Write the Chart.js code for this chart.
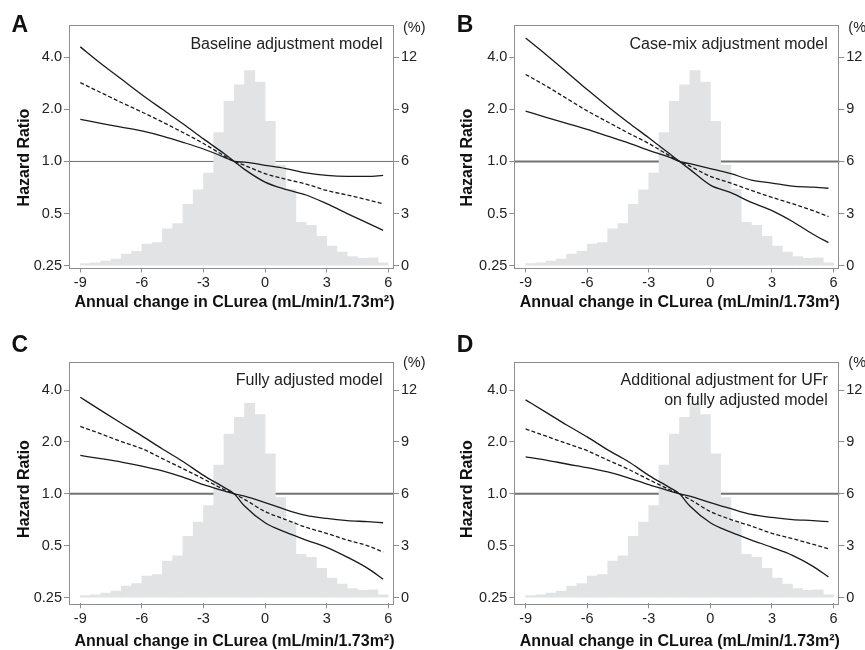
<!DOCTYPE html>
<html><head><meta charset="utf-8">
<script src="https://cdn.jsdelivr.net/npm/chart.js@4.4.1/dist/chart.umd.min.js"></script>
<style>
html,body{margin:0;padding:0;background:#fff;width:865px;height:650px;overflow:hidden;}
.p{position:absolute;width:432px;height:325px;}
canvas{display:block;}
</style></head><body>
<div class="p" style="left:0;top:0"><canvas id="cA" width="432" height="325"></canvas></div>
<div class="p" style="left:433px;top:0"><canvas id="cB" width="432" height="325"></canvas></div>
<div class="p" style="left:0;top:325px"><canvas id="cC" width="432" height="325"></canvas></div>
<div class="p" style="left:433px;top:325px"><canvas id="cD" width="432" height="325"></canvas></div>
<script>
// ---- data ----
const xTicks = [-9, -6, -3, 0, 3, 6];
const hrTicks = [0.25, 0.5, 1, 2, 4];
const hrTickLabels = ['0.25', '0.5', '1.0', '2.0', '4.0'];
const pctTicks = [0, 3, 6, 9, 12];
const refHR = 1;
const xTitle = 'Annual change in CLurea (mL/min/1.73m²)';
const yTitle = 'Hazard Ratio';
const pctTitle = '(%)';

const histBins = [-8.75,-8.25,-7.75,-7.25,-6.75,-6.25,-5.75,-5.25,-4.75,-4.25,-3.75,-3.25,-2.75,-2.25,-1.75,-1.25,-0.75,-0.25,0.25,0.75,1.25,1.75,2.25,2.75,3.25,3.75,4.25,4.75,5.25,5.75];
const histPct = [0.12,0.17,0.26,0.38,0.67,0.82,1.25,1.33,2.12,2.42,3.54,4.37,5.33,7.67,9.46,10.42,11.23,10.58,8.31,5.79,4.40,2.50,2.33,1.69,1.13,0.79,0.52,0.42,0.45,0.17];

const curveX = [-9,-8,-7,-6,-5,-4,-3,-2,-1.5,-1,0,1,2,3,4,5,5.75];

const steepA = [4.59,3.68,2.99,2.43,2.00,1.65,1.35,1.11,1,0.90,0.76,0.69,0.64,0.57,0.50,0.44,0.40];
const estA   = [2.85,2.50,2.19,1.93,1.69,1.47,1.27,1.08,1,0.95,0.85,0.79,0.74,0.68,0.64,0.60,0.57];
const flatA  = [1.75,1.66,1.58,1.50,1.40,1.29,1.18,1.06,1,0.99,0.95,0.91,0.86,0.83,0.82,0.82,0.83];

const steepB = [5.17,4.14,3.29,2.60,2.08,1.68,1.37,1.11,1,0.90,0.73,0.66,0.58,0.52,0.45,0.38,0.34];
const estB   = [3.18,2.73,2.31,1.96,1.69,1.46,1.27,1.08,1,0.94,0.82,0.75,0.68,0.62,0.57,0.52,0.48];
const flatB  = [1.95,1.80,1.66,1.53,1.40,1.28,1.16,1.06,1,0.97,0.91,0.85,0.78,0.75,0.72,0.71,0.70];

const steepC = [3.63,3.05,2.57,2.17,1.82,1.54,1.28,1.09,1,0.85,0.68,0.60,0.54,0.49,0.43,0.37,0.32];
const estC   = [2.46,2.23,2.01,1.83,1.60,1.40,1.22,1.06,1,0.93,0.79,0.71,0.64,0.59,0.54,0.50,0.46];
const flatC  = [1.67,1.60,1.53,1.45,1.36,1.25,1.13,1.04,1,0.97,0.89,0.81,0.75,0.72,0.70,0.69,0.68];

const steepD = [3.51,2.97,2.51,2.14,1.80,1.54,1.28,1.09,1,0.85,0.68,0.60,0.54,0.49,0.44,0.38,0.33];
const estD   = [2.38,2.16,1.96,1.78,1.57,1.39,1.21,1.06,1,0.93,0.79,0.71,0.65,0.59,0.55,0.51,0.48];
const flatD  = [1.64,1.57,1.49,1.42,1.34,1.24,1.13,1.04,1,0.97,0.89,0.82,0.76,0.73,0.71,0.70,0.69];

const panelLetters = ['A', 'B', 'C', 'D'];
const panelNotes = [
  ['Baseline adjustment model'],
  ['Case-mix adjustment model'],
  ['Fully adjusted model'],
  ['Additional adjustment for UFr', 'on fully adjusted model']
];

// ---- layout / style ----
const W = 432, H = 325;
const FONT = "'Liberation Sans', Arial, Helvetica, sans-serif";
const rowTop = {t: 25, b: 267.5, hrMin: 0.244, hrMax: 6.14, pMin: -0.104, pMax: 13.86, letterY: 31.5, ytY: 157.5, xtY: 303, pctY: 28, noteY: 45};
const rowBot = {t: 36.7, b: 278.3, hrMin: 0.232, hrMax: 5.84, pMin: -0.324, pMax: 13.64, letterY: 26.7, ytY: 164, xtY: 316.7, pctY: 38.3, noteY: 55.7};
const colL = {l: 69, r: 394, letterX: 11.5, ytX: 25};
const colR = {l: 81.3, r: 406.3, letterX: 23.7, ytX: 34.5};

const panels = [
  {id: 'cA', row: rowTop, col: colL, steep: steepA, est: estA, flat: flatA, refW: 1, refC: '#6b6b6b'},
  {id: 'cB', row: rowTop, col: colR, steep: steepB, est: estB, flat: flatB, refW: 2, refC: '#727272'},
  {id: 'cC', row: rowBot, col: colL, steep: steepC, est: estC, flat: flatC, refW: 2, refC: '#727272'},
  {id: 'cD', row: rowBot, col: colR, steep: steepD, est: estD, flat: flatD, refW: 2, refC: '#727272'}
];

function pts(xs, ys) { return xs.map((x, i) => ({x: x, y: ys[i]})); }

function makeDecor(p, idx) {
  return {
    id: 'decor' + idx,
    beforeDatasetsDraw(chart) {
      const ctx = chart.ctx, a = chart.chartArea;
      const y = chart.scales.y.getPixelForValue(refHR);
      ctx.save();
      ctx.strokeStyle = p.refC; ctx.lineWidth = p.refW;
      ctx.beginPath(); ctx.moveTo(a.left, y); ctx.lineTo(a.right, y); ctx.stroke();
      ctx.restore();
    },
    afterDatasetsDraw(chart) {
      const ctx = chart.ctx, a = chart.chartArea;
      ctx.save();
      ctx.strokeStyle = '#8e8e8e'; ctx.lineWidth = 1;
      ctx.strokeRect(Math.round(a.left) + 0.5, Math.round(a.top) + 0.5, Math.round(a.right - a.left) - 1, Math.round(a.bottom - a.top));
      ctx.fillStyle = '#111';
      ctx.font = 'bold 23px ' + FONT;
      ctx.textAlign = 'left'; ctx.textBaseline = 'alphabetic';
      ctx.fillText(panelLetters[idx], p.col.letterX, p.row.letterY);
      ctx.fillStyle = '#222';
      ctx.font = '16px ' + FONT;
      ctx.textAlign = 'right'; ctx.textBaseline = 'middle';
      panelNotes[idx].forEach((t, k) => ctx.fillText(t, a.right - 11.5, p.row.noteY + k * 20));
      ctx.font = '14.5px ' + FONT;
      ctx.textAlign = 'left';
      ctx.fillText(pctTitle, a.right + 9, p.row.pctY);
      ctx.fillStyle = '#111';
      ctx.font = 'bold 16px ' + FONT;
      ctx.textAlign = 'center'; ctx.textBaseline = 'middle';
      ctx.fillText(xTitle, (a.left + a.right) / 2 + 3, p.row.xtY);
      ctx.translate(p.col.ytX, p.row.ytY);
      ctx.rotate(-Math.PI / 2);
      ctx.fillText(yTitle, 0, 0);
      ctx.restore();
    }
  };
}

panels.forEach((p, idx) => {
  const lineStyle = {type: 'line', xAxisID: 'x', yAxisID: 'y', borderColor: '#1b1b1b', borderWidth: 1.3,
    pointRadius: 0, fill: false, cubicInterpolationMode: 'monotone', order: 1};
  new Chart(document.getElementById(p.id), {
    type: 'bar',
    data: {
      datasets: [
        {type: 'bar', data: pts(histBins, histPct), xAxisID: 'x', yAxisID: 'y1', backgroundColor: '#e2e3e5',
          borderWidth: 0, barPercentage: 1, categoryPercentage: 1, order: 2},
        Object.assign({data: pts(curveX, p.steep)}, lineStyle),
        Object.assign({data: pts(curveX, p.est), borderDash: [4, 2.2]}, lineStyle),
        Object.assign({data: pts(curveX, p.flat)}, lineStyle)
      ]
    },
    options: {
      responsive: false, animation: false, devicePixelRatio: 1,
      layout: {padding: {top: p.row.t, left: 0, right: 0, bottom: 0}},
      plugins: {legend: {display: false}, tooltip: {enabled: false}, title: {display: false}},
      scales: {
        x: {
          type: 'linear', position: 'bottom', min: -9.55, max: 6.28, offset: false,
          afterBuildTicks: s => { s.ticks = xTicks.map(v => ({value: v})); },
          afterFit: s => { s.height = H - p.row.b; },
          grid: {display: true, drawOnChartArea: false, drawTicks: true, tickLength: 5, tickColor: '#8e8e8e', offset: false},
          border: {display: false},
          ticks: {color: '#222', font: {family: FONT, size: 14.5}, padding: 2, maxRotation: 0, autoSkip: false,
            callback: v => String(v)}
        },
        y: {
          type: 'logarithmic', position: 'left', min: p.row.hrMin, max: p.row.hrMax,
          afterBuildTicks: s => { s.ticks = hrTicks.map(v => ({value: v})); },
          afterFit: s => { s.width = p.col.l; },
          grid: {display: true, drawOnChartArea: false, drawTicks: true, tickLength: 5, tickColor: '#8e8e8e'},
          border: {display: false},
          ticks: {color: '#222', font: {family: FONT, size: 14.5}, padding: 2, autoSkip: false,
            callback: v => hrTickLabels[hrTicks.indexOf(v)]}
        },
        y1: {
          type: 'linear', position: 'right', min: p.row.pMin, max: p.row.pMax,
          afterBuildTicks: s => { s.ticks = pctTicks.map(v => ({value: v})); },
          afterFit: s => { s.width = W - p.col.r; },
          grid: {display: true, drawOnChartArea: false, drawTicks: true, tickLength: 5, tickColor: '#8e8e8e'},
          border: {display: false},
          ticks: {color: '#222', font: {family: FONT, size: 14.5}, padding: 2, autoSkip: false,
            callback: v => String(v)}
        }
      }
    },
    plugins: [makeDecor(p, idx)]
  });
});
</script>
</body></html>
